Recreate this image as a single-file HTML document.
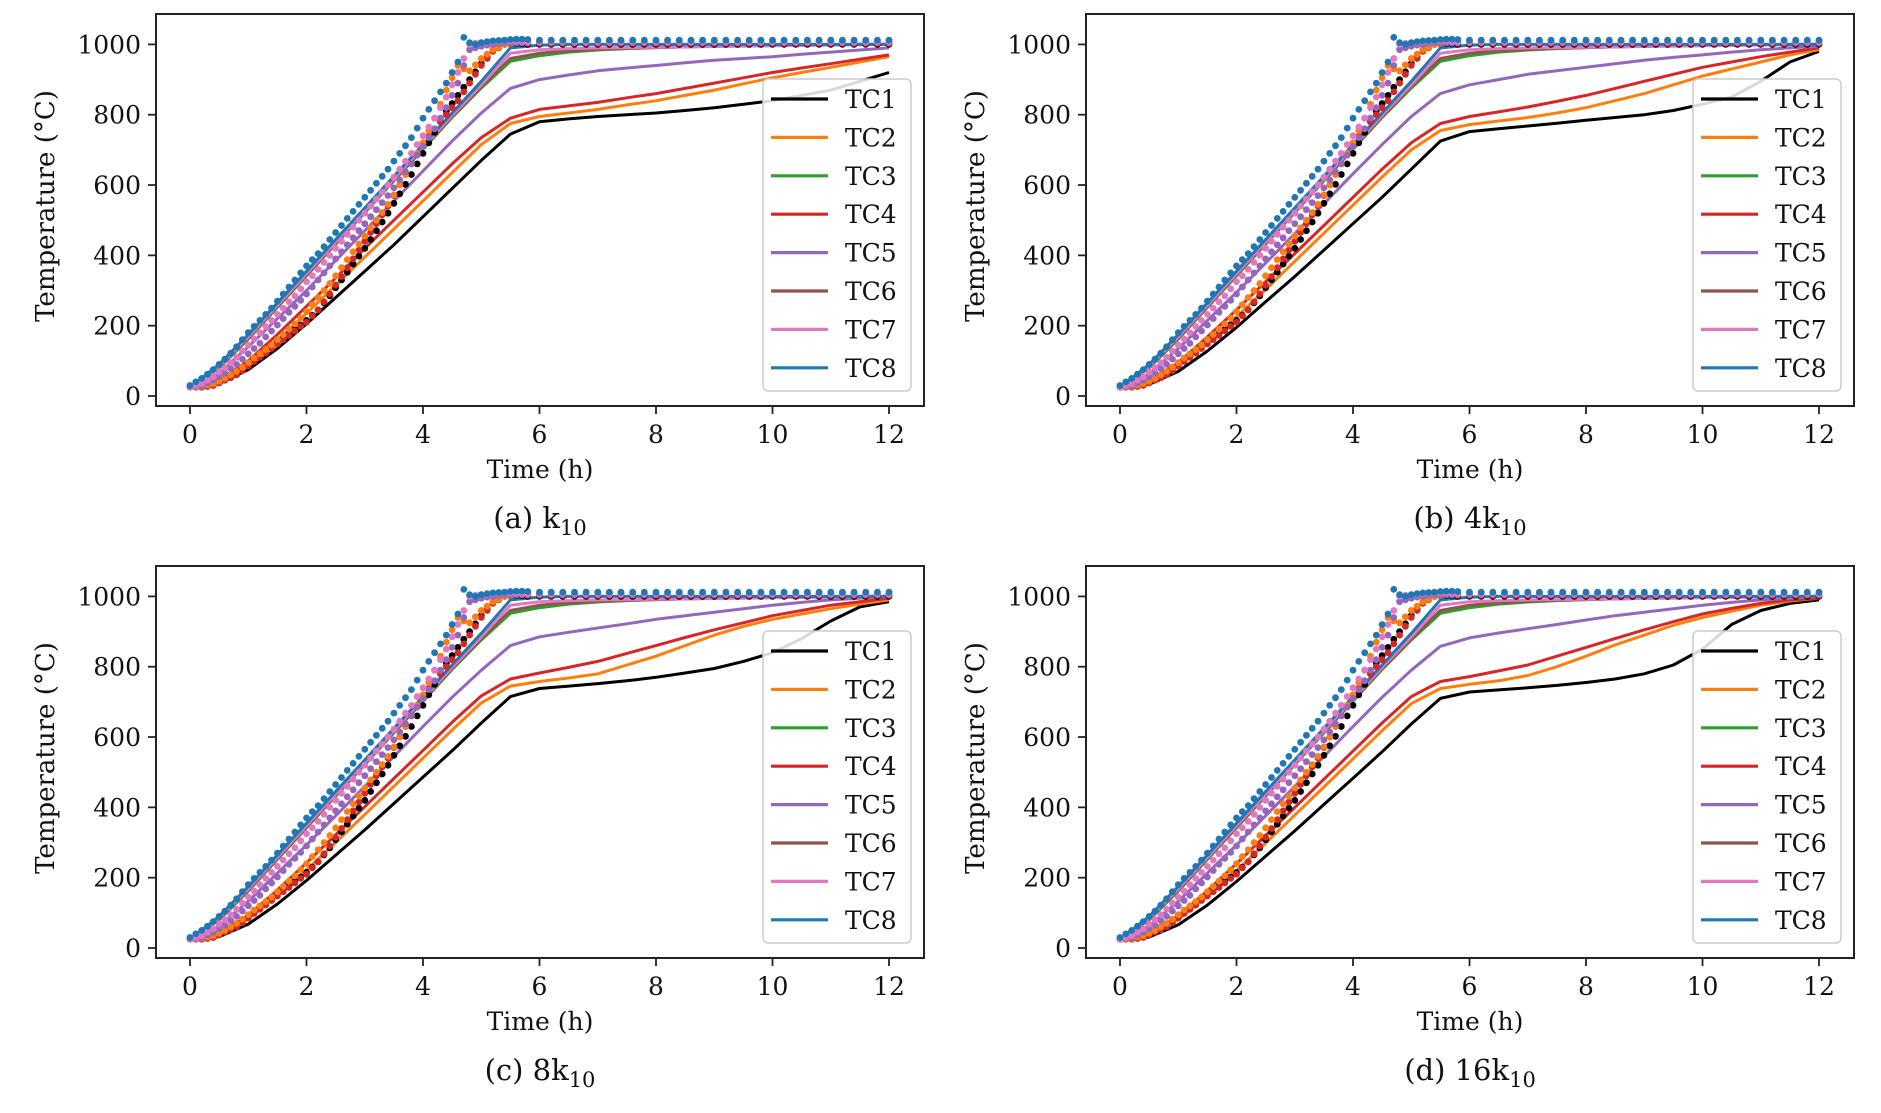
<!DOCTYPE html>
<html><head><meta charset="utf-8"><style>
html,body{margin:0;padding:0;background:#fff;}
svg{display:block;font-family:"DejaVu Serif","Liberation Serif",serif;}
</style></head><body>
<svg id="fig" width="1881" height="1113" viewBox="0 0 1881 1113" xmlns="http://www.w3.org/2000/svg"></svg>
<script>
const panelCaptions = ["(a) k","(b) 4k","(c) 8k","(d) 16k"];
const seriesNames = ["TC1","TC2","TC3","TC4","TC5","TC6","TC7","TC8"];
const xTicks = [0,2,4,6,8,10,12];
const yTicks = [0,200,400,600,800,1000];
const simT = [0,0.5,1,1.5,2,2.5,3,3.5,4,4.5,5,5.5,6,6.5,7,7.5,8,8.5,9,9.5,10,10.5,11,11.5,12];
const tc8 = [25,90,175,265,355,445,535,625,715,805,895,990,998,1000,1000,1000,1000,1000,1000,1000,1000,1000,1000,1000,1000];
const tc7 = [25,85,168,258,348,438,528,618,708,798,885,975,985,988,990,991,992,993,994,995,996,997,998,999,1000];
const tc6 = [25,82,165,255,345,435,525,615,705,795,880,960,975,982,986,989,991,993,995,996,997,998,999,1000,1000];
const tc3 = [25,80,162,252,342,432,522,612,702,792,876,952,968,978,984,988,991,993,995,996,997,998,999,1000,1000];
const aTC1 = [25,35,75,135,205,280,355,430,510,590,670,745,780,788,795,800,805,812,820,830,840,855,870,895,920];
const aTC2 = [25,40,90,160,235,315,395,475,555,635,715,775,795,805,815,828,840,855,870,888,905,920,935,950,965];
const aTC4 = [25,45,100,175,255,335,420,500,580,660,735,790,815,825,835,848,860,875,890,905,920,933,945,958,970];
const aTC5 = [25,65,140,220,300,385,470,555,640,725,805,875,900,913,925,933,940,948,955,960,965,972,978,984,990];
const bTC1 = [25,33,70,128,195,268,340,415,490,565,645,725,752,760,768,776,784,792,800,812,830,850,895,950,980];
const bTC2 = [25,38,85,152,225,303,383,463,543,623,700,755,772,782,792,805,820,840,860,885,910,930,950,970,985];
const bTC4 = [25,42,95,168,245,325,405,485,565,645,720,775,795,808,822,838,855,875,895,915,935,950,965,978,990];
const bTC5 = [25,63,135,215,295,378,462,547,632,715,795,860,885,900,915,925,935,945,955,963,970,978,985,990,995];
const cTC1 = [25,32,68,125,192,264,336,411,486,561,640,715,738,745,752,760,770,782,795,815,840,880,930,970,985];
const cTC2 = [25,37,83,150,222,300,380,460,540,620,697,745,758,768,780,805,830,860,890,915,935,950,965,978,990];
const cTC4 = [25,41,93,165,242,322,402,482,562,642,717,765,782,798,815,838,860,883,905,925,945,960,975,985,995];
const cTC5 = [25,62,133,213,293,376,460,545,630,713,790,860,885,898,910,922,935,945,955,965,975,983,990,995,1000];
const dTC1 = [25,31,66,122,189,261,333,408,483,558,637,710,728,734,740,747,755,765,780,805,850,920,960,980,990];
const dTC2 = [25,36,81,148,220,298,378,458,538,618,695,738,750,760,775,800,830,862,890,918,940,958,975,987,995];
const dTC4 = [25,40,91,163,240,320,400,480,560,640,715,758,772,788,805,830,855,880,905,928,950,966,980,990,995];
const dTC5 = [25,62,133,213,293,376,460,545,630,713,790,858,882,896,908,920,933,945,955,965,975,983,990,995,1000];
// experimental (measured) data, rising part at 0.1 h and plateau at 0.2 h
const expRiseT = [0,0.1,0.2,0.3,0.4,0.5,0.6,0.7,0.8,0.9,1,1.1,1.2,1.3,1.4,1.5,1.6,1.7,1.8,1.9,2,2.1,2.2,2.3,2.4,2.5,2.6,2.7,2.8,2.9,3,3.1,3.2,3.3,3.4,3.5,3.6,3.7,3.8,3.9,4,4.1,4.2,4.3,4.4,4.5,4.6,4.7,4.8,4.9,5,5.1,5.2,5.3,5.4,5.5,5.6,5.7,5.8];
const expPlatT = [6,6.2,6.4,6.6,6.8,7,7.2,7.4,7.6,7.8,8,8.2,8.4,8.6,8.8,9,9.2,9.4,9.6,9.8,10,10.2,10.4,10.6,10.8,11,11.2,11.4,11.6,11.8,12];
const expTC8 = [30,40,50,62,75,90,105,122,140,160,180,198,215,232,250,270,290,310,330,350,370,388,405,425,445,465,485,505,525,545,565,585,605,625,645,668,690,712,735,762,790,815,840,865,890,920,950,1020,1005,1000,1005,1008,1010,1011,1012,1014,1015,1015,1014];
const expTC8p = [1012,1012,1012,1012,1012,1012,1012,1012,1012,1012,1012,1012,1012,1012,1012,1012,1012,1012,1012,1012,1012,1012,1012,1012,1012,1012,1012,1012,1012,1012,1012];
const expTC7 = [25,30,35,45,55,68,80,95,110,128,145,162,180,198,215,232,250,268,285,305,325,342,360,380,400,420,440,460,480,500,520,540,560,580,600,622,645,668,690,715,740,765,790,820,850,885,920,960,1000,1003,1005,1006,1008,1009,1010,1010,1010,1009,1008];
const expTC7p = [1008,1008,1008,1008,1008,1008,1008,1008,1008,1008,1008,1008,1008,1008,1008,1008,1008,1008,1008,1008,1008,1008,1008,1008,1008,1008,1008,1008,1008,1008,1008];
const expTC5 = [25,27,30,37,45,55,65,78,90,105,120,135,150,168,185,202,220,238,255,272,290,310,330,350,370,390,410,430,450,470,490,510,530,550,570,592,615,638,660,685,710,735,760,790,820,855,890,940,985,990,995,998,1000,1003,1005,1005,1005,1005,1005];
const expTC5p = [1005,1005,1005,1005,1005,1005,1005,1005,1005,1005,1005,1005,1005,1005,1005,1005,1005,1005,1005,1005,1005,1005,1005,1005,1005,1005,1005,1005,1005,1005,1005];
const expTC2 = [25,26,28,31,35,42,50,60,70,82,95,108,120,132,145,160,175,190,205,222,240,260,280,300,320,342,365,388,410,432,455,478,500,522,545,572,600,630,660,690,720,755,790,830,870,905,940,930,925,942,960,972,985,992,1000,1003,1005,1005,1005];
const expTC2p = [1005,1005,1005,1005,1005,1005,1005,1005,1005,1005,1005,1005,1005,1005,1005,1005,1005,1005,1005,1005,1005,1005,1005,1005,1005,1005,1005,1005,1005,1005,1005];
const expTC4 = [25,25,25,27,30,37,45,52,60,72,85,98,110,122,135,148,160,172,185,198,210,228,245,268,290,315,340,365,390,415,440,465,490,515,540,570,600,630,660,688,715,738,760,780,800,820,840,865,890,915,940,960,980,990,1000,1003,1005,1004,1003];
const expTC4p = [1003,1003,1003,1003,1003,1003,1003,1003,1003,1003,1003,1003,1003,1003,1003,1003,1003,1003,1003,1003,1003,1003,1003,1003,1003,1003,1003,1003,1003,1003,1003];
const expTC1 = [25,26,27,31,35,42,50,59,68,80,92,105,118,130,142,154,165,178,190,202,215,230,245,265,285,308,330,352,375,398,420,445,470,495,520,548,575,602,630,660,690,720,750,780,810,832,855,878,900,922,945,965,985,992,1000,1002,1003,1002,1000];
const expTC1p = [1000,1000,1000,1000,1000,1000,1000,1000,1000,1000,1000,1000,1000,1000,1000,1000,1000,1000,1000,1000,1000,1000,1000,1000,1000,1000,1000,1000,1000,1000,1000];

const colors = ["#000000","#ff7f0e","#2ca02c","#d62728","#9467bd","#8c564b","#e377c2","#1f77b4"];
const panelSeries = [
  [aTC1,aTC2,tc3,aTC4,aTC5,tc6,tc7,tc8],
  [bTC1,bTC2,tc3,bTC4,bTC5,tc6,tc7,tc8],
  [cTC1,cTC2,tc3,cTC4,cTC5,tc6,tc7,tc8],
  [dTC1,dTC2,tc3,dTC4,dTC5,tc6,tc7,tc8]
];
const expSeries = [[expTC1,expTC1p,0],[expTC4,expTC4p,3],[expTC2,expTC2p,1],[expTC5,expTC5p,4],[expTC7,expTC7p,6],[expTC8,expTC8p,7]];
const offX = [0,930,0,930], offY = [0,0,552,552];
const NS = "http://www.w3.org/2000/svg";
const svg = document.getElementById('fig');
function mk(tag, attrs, parent){const e=document.createElementNS(NS,tag);for(const k in attrs)e.setAttribute(k,attrs[k]);parent.appendChild(e);return e;}

for(let p=0;p<4;p++){
  const ox=offX[p], oy=offY[p];
  const X = t => ox + 190 + t*(889-190)/12;
  const Y = v => oy + 396 - v*(396-44.4)/1000;
  const g = mk('g',{},svg);
  
  
  const cid='clip'+p;
  const cp=mk('clipPath',{id:cid},g);
  mk('rect',{x:ox+156,y:oy+14,width:768,height:392},cp);
  const plot=mk('g',{'clip-path':'url(#'+cid+')'},g);
  
  
  panelSeries[p].forEach((arr,i)=>{
    const pts=arr.map((v,j)=>X(simT[j]).toFixed(1)+','+Y(v).toFixed(1)).join(' ');
    const pl=mk('polyline',{points:pts,fill:'none',stroke:colors[i],'stroke-width':3,'stroke-linejoin':'round'},plot);
    
    
  });
  expSeries.forEach(([rise,plat,ci])=>{
    const eg=mk('g',{fill:colors[ci]},plot);
    
    
    rise.forEach((v,j)=>{mk('circle',{cx:X(expRiseT[j]).toFixed(1),cy:Y(v).toFixed(1),r:3.4},eg);});
    plat.forEach((v,j)=>{mk('circle',{cx:X(expPlatT[j]).toFixed(1),cy:Y(v).toFixed(1),r:3.4},eg);});
  });
  const fr=mk('rect',{x:ox+156,y:oy+14,width:768,height:392,fill:'none',stroke:'#222','stroke-width':2},g);
  
  
  xTicks.forEach(t=>{
    const l=mk('line',{x1:X(t),x2:X(t),y1:oy+406,y2:oy+414,stroke:'#222','stroke-width':1.8},g);
    
    
    const tx=mk('text',{x:X(t),y:oy+443,'font-size':25,'text-anchor':'middle',fill:'#111'},g);
    tx.textContent=t;
    
    
  });
  yTicks.forEach(v=>{
    const l=mk('line',{x1:ox+148,x2:ox+156,y1:Y(v),y2:Y(v),stroke:'#222','stroke-width':1.8},g);
    
    
    const tx=mk('text',{x:ox+141,y:Y(v)+9,'font-size':25,'text-anchor':'end',fill:'#111'},g);
    tx.textContent=v;
    
    
  });
  const xl=mk('text',{x:ox+540,y:oy+478,'font-size':25,'text-anchor':'middle',fill:'#111'},g);
  xl.textContent='Time (h)';
  
  
  const yl=mk('text',{x:0,y:0,'font-size':26,'text-anchor':'middle',fill:'#111',transform:'translate('+(ox+54)+','+(oy+206)+') rotate(-90)'},g);
  yl.textContent='Temperature (°C)';
  
  
  const cap=mk('text',{x:ox+540,y:oy+528,'font-size':29,'text-anchor':'middle',fill:'#111'},g);
  cap.textContent=panelCaptions[p];
  const sub=mk('tspan',{'font-size':21,dy:7},cap);
  sub.textContent='10';
  
  
  const lg=mk('g',{},g);
  
  
  mk('rect',{x:ox+763,y:oy+79,width:148,height:312,rx:5,fill:'#fff','fill-opacity':0.85,stroke:'#ccc','stroke-width':1.5},lg);
  seriesNames.forEach((n,i)=>{
    const yy=oy+99+i*38.4;
    const e=mk('g',{},lg);
    
    
    mk('line',{x1:ox+771,x2:ox+828,y1:yy,y2:yy,stroke:colors[i],'stroke-width':3.2},e);
    const t=mk('text',{x:ox+845,y:yy+9,'font-size':25,fill:'#111'},e);
    t.textContent=n;
  });
}
</script>
</body></html>
